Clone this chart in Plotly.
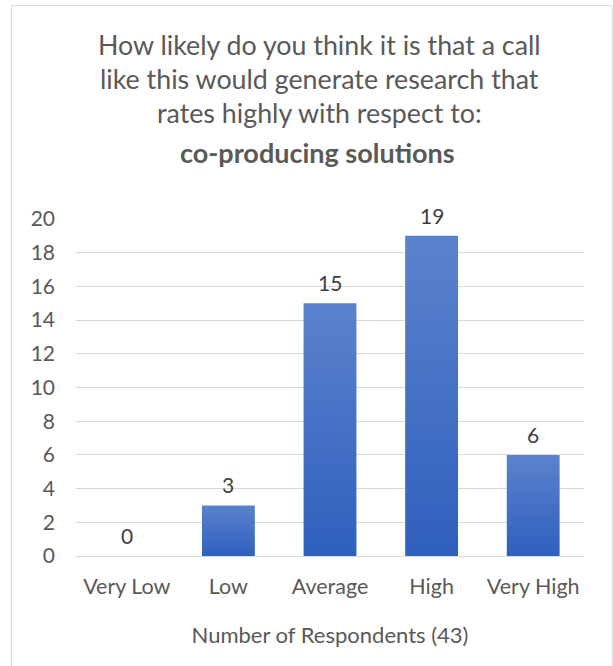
import plotly.graph_objects as go

categories = ["Very Low", "Low", "Average", "High", "Very High"]
values = [0, 3, 15, 19, 6]
title_lines = ["How likely do you think it is that a call",
               "like this would generate research that",
               "rates highly with respect to:"]
title_bold = "co-producing solutions"
x_title = "Number of Respondents (43)"
y_ticks = list(range(0, 21, 2))

FONT = "Lato"
W, H = 613, 666
L, R, T, B = 76, 29, 219, 110
ph = H - T - B
pw = W - L - R

def py(ypix):
    return (H - B - ypix) / ph

def px(xpix):
    return (xpix - L) / pw

fig = go.Figure()
hw = 0.26
for i, v in enumerate(values):
    if v <= 0:
        continue
    fig.add_trace(go.Scatter(
        x=[i - hw, i - hw, i + hw, i + hw, i - hw],
        y=[0, v, v, 0, 0],
        mode="lines", fill="toself", line=dict(width=0),
        fillgradient=dict(type="vertical",
                          colorscale=[[0, "#2F60BE"], [1, "#5B82CC"]]),
        hoverinfo="skip", showlegend=False))

for i, v in enumerate(values):
    fig.add_annotation(x=i, y=v, text=str(v), showarrow=False,
                       yanchor="bottom", yshift=6,
                       font=dict(family=FONT, size=21, color="#404040"))

title_y = [45, 79, 113]
for line, yy in zip(title_lines, title_y):
    fig.add_annotation(xref="paper", yref="paper", x=px(319), y=py(yy),
                       text=line, showarrow=False, xanchor="center", yanchor="middle",
                       font=dict(family=FONT, size=26.8, color="#595959"))
fig.add_annotation(xref="paper", yref="paper", x=px(317), y=py(153),
                   text="<b>" + title_bold + "</b>", showarrow=False,
                   xanchor="center", yanchor="middle",
                   font=dict(family=FONT, size=27, color="#595959"))

fig.add_shape(type="rect", xref="paper", yref="paper",
              x0=px(11.5), x1=px(612), y0=py(700), y1=py(5.5),
              line=dict(color="#D9D9D9", width=1), layer="below")

fig.update_layout(
    width=W, height=H,
    margin=dict(l=L, r=R, t=T, b=B, autoexpand=False),
    paper_bgcolor="white", plot_bgcolor="white",
    showlegend=False,
    xaxis=dict(range=[-0.5, 4.5], tickvals=list(range(len(categories))),
               ticktext=categories, showgrid=False, zeroline=False,
               showline=False, ticks="", ticklabelstandoff=15,
               tickfont=dict(family=FONT, size=21.5, color="#595959"),
               title=dict(text=x_title, standoff=30,
                          font=dict(family=FONT, size=22, color="#595959"))),
    yaxis=dict(range=[0, 20], tickvals=y_ticks, showgrid=True,
               gridcolor="#D9D9D9", gridwidth=1.3, zeroline=True,
               zerolinecolor="#D9D9D9", zerolinewidth=1.3,
               ticks="", ticklabelstandoff=20,
               tickfont=dict(family=FONT, size=21, color="#595959")),
)

fig.write_html("out.html", config={"displayModeBar": False},
               post_script="document.body.style.margin='0';document.body.style.padding='0';")
